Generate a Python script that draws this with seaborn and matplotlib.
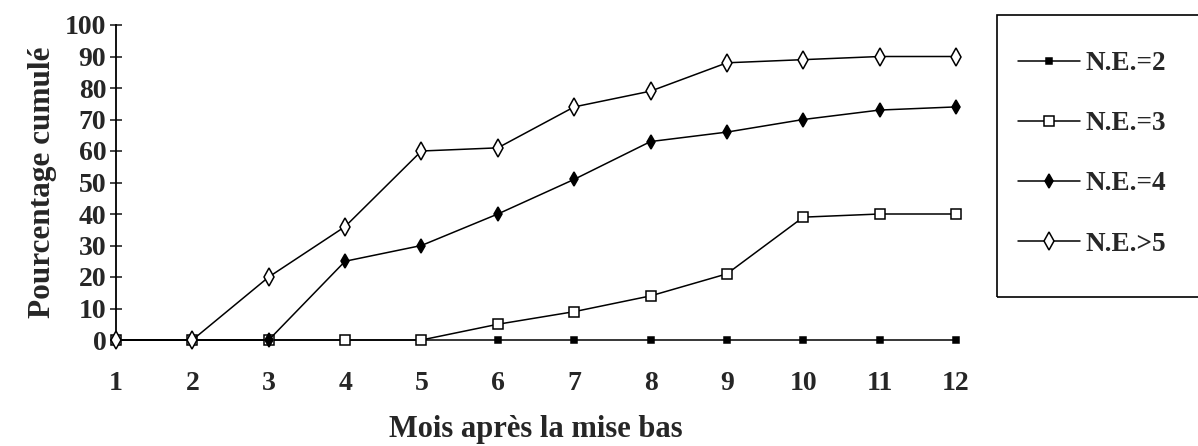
import pandas as pd
import matplotlib.pyplot as plt
import seaborn as sns
from matplotlib.patches import Rectangle

# -----------------------------
# Data
# -----------------------------
mois = [1, 2, 3, 4, 5, 6, 7, 8, 9, 10, 11, 12]
ne_2 = [0, 0, 0, 0, 0, 0, 0, 0, 0, 0, 0, 0]
ne_3 = [0, 0, 0, 0, 0, 5, 9, 14, 21, 39, 40, 40]
ne_4 = [0, 0, 0, 25, 30, 40, 51, 63, 66, 70, 73, 74]
ne_5 = [0, 0, 20, 36, 60, 61, 74, 79, 88, 89, 90, 90]
labels = ["N.E.=2", "N.E.=3", "N.E.=4", "N.E.>5"]

df = pd.DataFrame({"mois": mois * 4,
                   "pct": ne_2 + ne_3 + ne_4 + ne_5,
                   "groupe": sum([[l] * len(mois) for l in labels], [])})

sns.set_style("white")
plt.rcParams["font.family"] = ["Liberation Serif", "DejaVu Serif"]
plt.rcParams["font.weight"] = "bold"

W, H = 1198, 446
fig = plt.figure(figsize=(W / 100, H / 100), dpi=100)
ax = fig.add_axes([116 / W, 1 - 340 / H, 840 / W, 315 / H])

styles = {
    "N.E.=2": dict(marker="s", markersize=4.5, markerfacecolor="black"),
    "N.E.=3": dict(marker="s", markersize=7, markerfacecolor="white"),
    "N.E.=4": dict(marker="d", markersize=7.5, markerfacecolor="black"),
    "N.E.>5": dict(marker="d", markersize=9, markerfacecolor="white"),
}

for lab in labels:
    sub = df[df["groupe"] == lab]
    sns.lineplot(data=sub, x="mois", y="pct", ax=ax, color="black",
                 linewidth=1.1, markeredgecolor="black", markeredgewidth=1.1,
                 label=lab, clip_on=False, zorder=3, **styles[lab])

ax.set_xlim(1, 12)
ax.set_ylim(0, 100)
ax.set_xticks(mois)
ax.set_yticks(range(0, 101, 10))
ax.tick_params(axis="y", direction="inout", length=8, width=1.2, left=True,
               labelsize=20, pad=3)
ax.tick_params(axis="x", length=0, labelsize=20, pad=22)
for s in ["top", "right", "bottom"]:
    ax.spines[s].set_visible(False)
ax.spines["left"].set_linewidth(1.3)
ax.spines["left"].set_color("black")

ax.set_xlabel("Mois après la mise bas", fontsize=22, fontweight="bold", labelpad=14)
ax.set_ylabel("Pourcentage cumulé", fontsize=22.5, fontweight="bold", labelpad=6)

# legend box (runs off the right edge like the original)
fig.patches.append(Rectangle((997 / W, 1 - 297 / H), 0.3, 282 / H,
                             transform=fig.transFigure, fill=False,
                             edgecolor="black", linewidth=1.2))

leg = ax.legend(loc="upper left", bbox_to_anchor=(1018 / W, 1 - 51 / H),
                bbox_transform=fig.transFigure, frameon=False,
                borderaxespad=0, borderpad=0, fontsize=19.5,
                handlelength=2.3, labelspacing=1.3, handletextpad=0.2)
for t in leg.get_texts():
    t.set_fontweight("bold")

fig.savefig("out.png", dpi=100)
